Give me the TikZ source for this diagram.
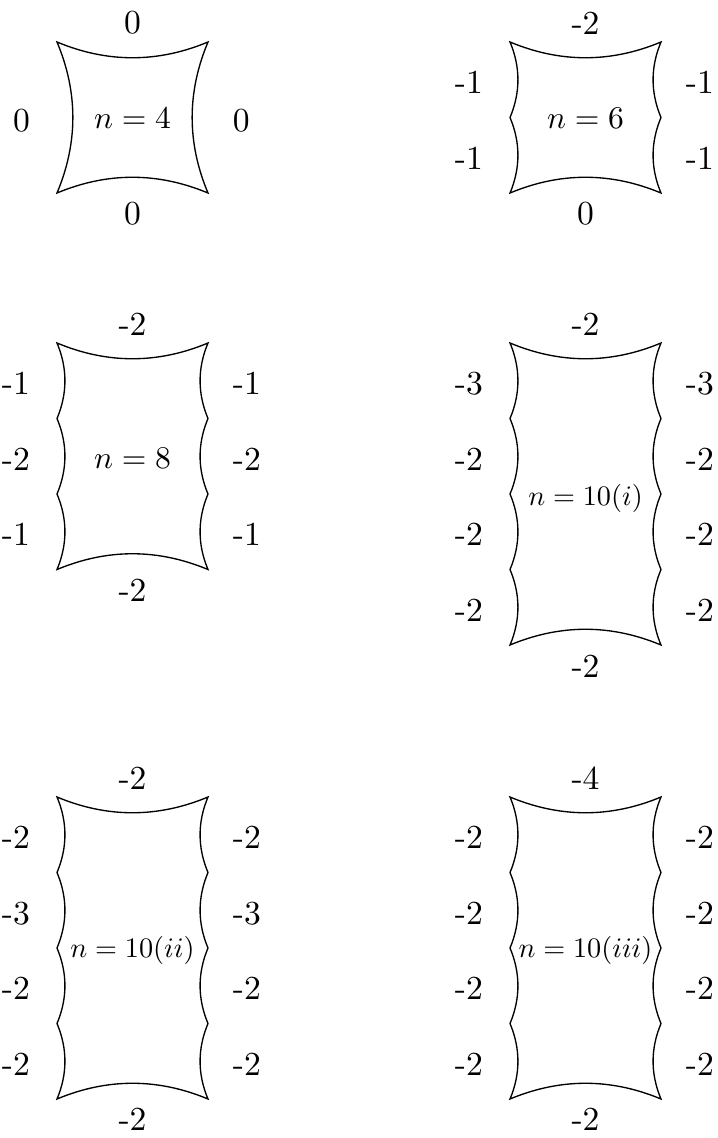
\documentclass[tikz,border=0pt]{standalone}
\newcommand{\drawcell}[4]{% x0 y0 m seg
  \pgfmathsetmacro{\xa}{#1}\pgfmathsetmacro{\xb}{#1+151}
  \pgfmathsetmacro{\ya}{#2}\pgfmathsetmacro{\yb}{#2+#3*#4}
  \pgfmathsetmacro{\hs}{0.14*#4}
  \draw[cellline] (\xa,\ya) .. controls (\xa+50.33,\ya+21) and (\xb-50.33,\ya+21) .. (\xb,\ya)
    \foreach \i in {1,...,#3}{ .. controls (\xb-\hs,\ya+\i*#4-2*#4/3) and (\xb-\hs,\ya+\i*#4-#4/3) .. (\xb,\ya+\i*#4)}
    .. controls (\xb-50.33,\yb-21) and (\xa+50.33,\yb-21) .. (\xa,\yb)
    \foreach \i in {1,...,#3}{ .. controls (\xa+\hs,\yb-\i*#4+2*#4/3) and (\xa+\hs,\yb-\i*#4+#4/3) .. (\xa,\yb-\i*#4)}
    -- cycle;
}
\newcommand{\sidelabs}[5]{% name x0 y0 seg list
  \foreach \t [count=\k] in {#5}{
    \node[leftlab] (#1-l\k) at (#2-26.5, #3+\k*#4-#4/2+3) {\t};
    \node[rightlab] (#1-r\k) at (#2+175.3, #3+\k*#4-#4/2+3) {\t};
  }}
\begin{document}
\begin{tikzpicture}[x=0.29762pt,y=-0.29762pt,
  cellline/.style={line width=0.4pt, line join=miter},
  lab/.style={inner sep=0pt},
  leftlab/.style={lab, anchor=east},
  rightlab/.style={lab, anchor=west},
  midlab/.style={lab, anchor=base, scale=0.94},
  widelab/.style={lab, anchor=base, scale=0.84}]
\useasboundingbox (0,0) rectangle (717,1138);

% A: n=4
\drawcell{57}{42}{1}{151}
\node[lab] (A-t) at (132.5,23) {0};
\node[lab] (A-b) at (132.5,214) {0};
\sidelabs{A}{57}{42}{151}{0}
\node[midlab] (A-n) at (132.5,128) {$n=4$};

% B: n=6
\drawcell{510}{42}{2}{75.5}
\node[lab] (B-t) at (585.5,23) {-2};
\node[lab] (B-b) at (585.5,214) {0};
\sidelabs{B}{510}{42}{75.5}{-1,-1}
\node[midlab] (B-n) at (585.5,128) {$n=6$};

% C: n=8
\drawcell{57}{343}{3}{75.5}
\node[lab] (C-t) at (132.5,324) {-2};
\node[lab] (C-b) at (132.5,590.5) {-2};
\sidelabs{C}{57}{343}{75.5}{-1,-2,-1}
\node[midlab] (C-n) at (132.5,468) {$n=8$};

% D: n=10(i)
\drawcell{510}{343}{4}{75.5}
\node[lab] (D-t) at (585.5,324) {-2};
\node[lab] (D-b) at (585.5,666) {-2};
\sidelabs{D}{510}{343}{75.5}{-3,-2,-2,-2}
\node[widelab] (D-n) at (585.5,505) {$n=10(i)$};

% E: n=10(ii)
\drawcell{57}{797}{4}{75.5}
\node[lab] (E-t) at (132.5,778) {-2};
\node[lab] (E-b) at (132.5,1119) {-2};
\sidelabs{E}{57}{797}{75.5}{-2,-3,-2,-2}
\node[widelab] (E-n) at (132.5,957) {$n=10(ii)$};

% F: n=10(iii)
\drawcell{510}{797}{4}{75.5}
\node[lab] (F-t) at (585.5,778) {-4};
\node[lab] (F-b) at (585.5,1119) {-2};
\sidelabs{F}{510}{797}{75.5}{-2,-2,-2,-2}
\node[widelab] (F-n) at (585.5,957) {$n=10(iii)$};
\end{tikzpicture}
\end{document}
